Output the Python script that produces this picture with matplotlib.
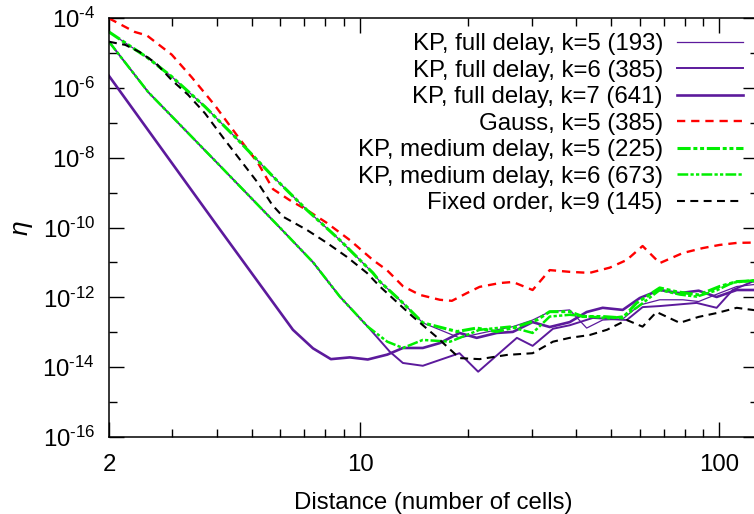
import numpy as np
import matplotlib
matplotlib.use('Agg')
import matplotlib.pyplot as plt
from matplotlib.ticker import FixedLocator, NullFormatter

plt.rcParams['font.family'] = ['Liberation Sans', 'DejaVu Sans']
plt.rcParams['mathtext.fontset'] = 'custom'
plt.rcParams['mathtext.rm'] = 'Liberation Sans'
plt.rcParams['mathtext.it'] = 'Liberation Sans:italic'

# values, y given as log10(eta)
fd5_x = [2.0, 2.57, 2.99, 3.70, 4.57, 5.72, 7.11, 8.78, 10.85, 11.35, 13.15, 14.94,
         18.9, 24.0, 26.6, 30.2, 33.7, 38.3, 42.7, 47.3, 53.8, 60.0, 68.2, 79.1,
         87.5, 100.0, 111.7, 128.0]
fd5_log = [-4.40, -5.15, -5.68, -6.54, -7.49, -8.54, -9.50, -10.36, -11.30, -11.55, -12.16, -12.73,
           -13.16, -12.93, -12.84, -12.65, -12.41, -12.36, -12.88, -12.65, -12.62, -12.22, -12.07, -12.07,
           -12.12, -11.88, -11.69, -11.62]

fd6_x = [2.0, 2.57, 4.0, 6.0, 7.4, 8.78, 10.5, 12.1, 13.15, 14.94, 18.9, 21.3,
         27.3, 30.2, 34.4, 38.3, 44.4, 55.2, 61.1, 68.2, 86.4, 98.2, 108.8, 123.6, 128.0]
fd6_log = [-4.68, -6.12, -8.15, -10.02, -11.0, -11.98, -12.84, -13.56, -13.88, -13.96, -13.60, -14.13,
           -13.16, -13.39, -12.90, -12.80, -12.59, -12.65, -12.28, -12.25, -12.16, -12.30, -11.79, -11.55, -11.55]

fd7_x = [2.0, 4.0, 6.5, 7.39, 8.29, 9.36, 10.5, 11.9, 13.15, 14.94, 16.66, 18.9,
         21.1, 24.0, 26.6, 30.2, 33.7, 38.3, 42.7, 47.3, 53.8, 60.0, 68.2, 77.5,
         87.5, 98.2, 111.7, 128.0]
fd7_log = [-5.66, -9.95, -12.93, -13.46, -13.77, -13.72, -13.78, -13.64, -13.45, -13.45, -13.31, -13.02,
           -13.16, -13.02, -12.99, -12.71, -12.85, -12.71, -12.42, -12.30, -12.36, -12.02, -11.79, -11.88,
           -11.81, -11.99, -11.79, -11.79]

gauss_x = [2.0, 2.36, 2.55, 2.99, 3.40, 3.94, 4.57, 5.20, 5.72, 6.35, 7.11, 8.08,
           9.36, 10.85, 11.87, 13.15, 14.66, 16.66, 18.0, 19.8, 21.5, 24.5, 26.6, 30.2,
           33.7, 38.3, 43.5, 49.5, 55.2, 61.1, 68.2, 79.1, 89.8, 100.0, 112.0, 128.0]
gauss_log = [-4.01, -4.40, -4.50, -5.05, -5.70, -6.50, -7.40, -8.16, -8.90, -9.21, -9.50, -9.87,
             -10.36, -10.93, -11.22, -11.68, -11.93, -12.07, -12.10, -11.88, -11.70, -11.59, -11.56, -11.79,
             -11.22, -11.27, -11.30, -11.15, -10.93, -10.53, -11.02, -10.73, -10.59, -10.50, -10.44, -10.43]

md5_x = [2.0, 2.57, 2.99, 3.70, 4.57, 5.72, 7.11, 8.78, 10.85, 11.35, 13.15, 14.94,
         18.6, 21.1, 24.0, 27.3, 31.0, 33.7, 38.3, 41.6, 47.3, 53.8, 58.8, 68.2,
         76.0, 87.5, 100.0, 111.7, 128.0]
md5_log = [-4.40, -5.15, -5.68, -6.54, -7.49, -8.54, -9.50, -10.36, -11.30, -11.55, -12.16, -12.73,
           -12.98, -12.88, -12.98, -12.84, -12.65, -12.41, -12.41, -12.55, -12.55, -12.59, -12.16, -11.73,
           -11.84, -11.93, -11.69, -11.55, -11.52]

md6_x = [2.0, 2.57, 4.0, 6.0, 7.4, 8.78, 10.5, 11.9, 13.15, 14.94, 17.8, 21.5,
         26.1, 30.2, 33.7, 38.3, 43.5, 49.5, 53.8, 58.8, 68.2, 77.5, 86.4, 98.2,
         108.8, 128.0]
md6_log = [-4.68, -6.12, -8.15, -10.02, -11.0, -11.98, -12.84, -13.27, -13.45, -13.22, -13.27, -12.93,
           -12.84, -13.02, -12.55, -12.50, -12.55, -12.60, -12.55, -12.30, -11.79, -11.92, -11.98, -11.80,
           -11.58, -11.50]

fixed_x = [2.0, 2.22, 2.43, 2.7, 2.99, 3.32, 3.70, 4.2, 4.57, 5.2, 5.69, 6.1,
           7.11, 8.08, 9.18, 10.44, 11.35, 14.0, 16.3, 18.9, 21.5, 25.6, 30.2, 34.4,
           38.3, 43.5, 48.6, 55.2, 61.1, 66.8, 77.5, 87.5, 98.2, 111.7, 123.6, 128.0]
fixed_log = [-4.68, -4.77, -4.97, -5.29, -5.78, -6.20, -6.73, -7.49, -7.98, -8.73, -9.35, -9.69,
             -10.07, -10.44, -10.84, -11.30, -11.69, -12.55, -13.13, -13.74, -13.77, -13.65, -13.60, -13.27,
             -13.16, -13.08, -12.93, -12.65, -12.84, -12.42, -12.73, -12.56, -12.45, -12.30, -12.36, -12.38]

labels = ['KP, full delay, k=5 (193)', 'KP, full delay, k=6 (385)', 'KP, full delay, k=7 (641)',
          'Gauss, k=5 (385)', 'KP, medium delay, k=5 (225)', 'KP, medium delay, k=6 (673)',
          'Fixed order, k=9 (145)']

xticks = [2, 10, 100]
ymajor = [-16, -14, -12, -10, -8, -6, -4]
yminor = [-15, -13, -11, -9, -7, -5]

purple = '#5c1a9c'
green = '#00ee00'
dashdotdot = (0, (4.3, 0.9, 1.3, 0.9, 1.3, 0.9))
fs = 17.3

fig = plt.figure(figsize=(7.54, 5.14), dpi=100)
ax = fig.add_axes([109 / 754, 77 / 514, 649 / 754, 419 / 514])

ax.plot(fd5_x, 10.0 ** np.array(fd5_log), color=purple, lw=0.9, label=labels[0])
ax.plot(fd6_x, 10.0 ** np.array(fd6_log), color=purple, lw=1.4, label=labels[1])
ax.plot(fd7_x, 10.0 ** np.array(fd7_log), color=purple, lw=1.9, label=labels[2])
ax.plot(gauss_x, 10.0 ** np.array(gauss_log), color='#ff0000', lw=1.7,
        linestyle=(0, (3.5, 2.5)), label=labels[3])
ax.plot(md5_x, 10.0 ** np.array(md5_log), color=green, lw=2.2,
        linestyle=dashdotdot, label=labels[4])
ax.plot(md6_x, 10.0 ** np.array(md6_log), color=green, lw=1.8,
        linestyle=dashdotdot, label=labels[5])
ax.plot(fixed_x, 10.0 ** np.array(fixed_log), color='black', lw=1.5,
        linestyle=(0, (3.8, 2.6)), label=labels[6])

ax.set_xscale('log')
ax.set_yscale('log')
ax.set_xlim(2, 128)
ax.set_ylim(1e-16, 1e-4)

ax.xaxis.set_major_locator(FixedLocator(xticks))
ax.set_xticklabels([str(t) for t in xticks])
ax.xaxis.set_minor_locator(FixedLocator([3, 4, 5, 6, 7, 8, 9, 20, 30, 40, 50, 60, 70, 80, 90]))
ax.xaxis.set_minor_formatter(NullFormatter())
ax.yaxis.set_major_locator(FixedLocator([10.0 ** e for e in ymajor]))
ax.set_yticklabels(['$10^{\u2010%d}$' % (-e) for e in ymajor])
ax.yaxis.set_minor_locator(FixedLocator([10.0 ** e for e in yminor]))
ax.yaxis.set_minor_formatter(NullFormatter())

ax.tick_params(which='both', direction='in', top=True, right=True, labelsize=fs)
ax.tick_params(which='major', length=11, width=1)
ax.tick_params(which='minor', length=6, width=1)
ax.tick_params(axis='y', pad=10)
ax.tick_params(axis='x', pad=12)
for s in ax.spines.values():
    s.set_linewidth(1.1)

ax.set_xlabel('Distance (number of cells)', fontsize=fs, labelpad=11.5)
ax.set_ylabel('\u03b7', fontsize=19, fontstyle='italic', labelpad=7)

ax.legend(loc='upper right', bbox_to_anchor=(743 / 754, 1 - 33 / 514),
          bbox_transform=fig.transFigure, frameon=False, markerfirst=False,
          fontsize=fs, handlelength=2.75, handletextpad=0.58,
          labelspacing=0.19, borderpad=0, borderaxespad=0)

fig.savefig('out.png', dpi=100)
